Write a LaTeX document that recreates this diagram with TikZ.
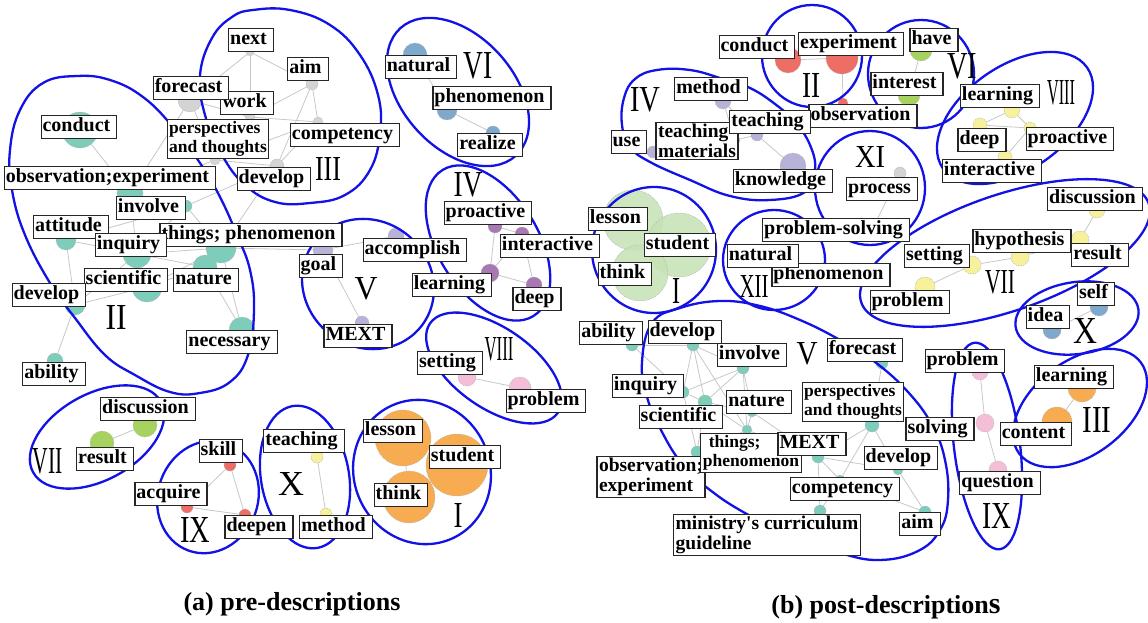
\documentclass[tikz,border=0pt]{standalone}
\usepackage{fontspec}
\setmainfont{Liberation Serif}
\pgfdeclarelayer{bg}
\pgfsetlayers{bg,main}

\definecolor{grpblue}{RGB}{18,18,230}
\definecolor{edgegray}{RGB}{200,200,200}
\definecolor{nteal}{RGB}{126,204,186}
\definecolor{ngray}{RGB}{212,212,212}
\definecolor{nsteel}{RGB}{126,168,204}
\definecolor{npurple}{RGB}{168,120,180}
\definecolor{nlav}{RGB}{182,178,216}
\definecolor{npink}{RGB}{245,190,216}
\definecolor{ngreen}{RGB}{166,210,96}
\definecolor{nred}{RGB}{238,110,102}
\definecolor{nyellow}{RGB}{247,241,156}
\definecolor{norange}{RGB}{248,172,82}
\definecolor{nmint}{RGB}{198,226,180}

% roman group numeral scaled to a given width and height
\newcommand\romnum[3]{\resizebox{#1pt}{#2pt}{#3}}

\tikzset{
  lbl/.style={draw=black!85, line width=1.1pt, fill=white, inner xsep=1.5pt, inner ysep=2.5pt,
    text height=14pt, text depth=4.5pt, font=\bfseries\fontsize{20pt}{20pt}\selectfont,
    execute at end node={\hspace{5pt}}},
  lbltwo/.style={draw=black!85, line width=1.1pt, fill=white, inner xsep=2pt, inner ysep=2pt,
    align=left, font=\bfseries\fontsize{19.5pt}{20pt}\selectfont},
  smalltext/.style={font=\bfseries\fontsize{17.5pt}{19pt}\selectfont},
  grp/.style={draw=grpblue, line width=2.3pt},
  edge/.style={draw=edgegray, line width=0.8pt},
  dot/.style={circle, inner sep=0pt, draw=black!30, line width=0.4pt, dash pattern=on 1.5pt off 1pt},
  rom/.style={inner sep=0pt, font=\mdseries},
  caption/.style={inner sep=0pt, font=\bfseries\fontsize{26pt}{28pt}\selectfont},
}

\begin{document}
\begin{tikzpicture}[x=1pt,y=-1pt]
\useasboundingbox (0,0) rectangle (1148,623);

% ---------------- nodes of the pre-description network ----------------
% III
\node[dot,fill=ngray,minimum size=8pt]  (a3next) at (250,52) {};
\node[dot,fill=ngray,minimum size=12pt] (a3aim)  at (312,84) {};
\node[dot,fill=ngray,minimum size=24pt] (a3fore) at (190,100) {};
\node[dot,fill=ngray,minimum size=10pt] (a3work) at (250,117) {};
\node[dot,fill=ngray,minimum size=10pt] (a3pers) at (215,160) {};
\node[dot,fill=ngray,minimum size=10pt] (a3comp) at (318,122) {};
\node[dot,fill=ngray,minimum size=14pt] (a3dev)  at (277,166) {};
% II
\node[dot,fill=nteal,minimum size=36pt] (a2cond) at (80,130) {};
\node[dot,fill=nteal,minimum size=26pt] (a2obs)  at (130,193) {};
\node[dot,fill=nteal,minimum size=12pt] (a2inv)  at (186,206) {};
\node[dot,fill=nteal,minimum size=20pt] (a2att)  at (66,240) {};
\node[dot,fill=nteal,minimum size=28pt] (a2inq)  at (137,254) {};
\node[dot,fill=nteal,minimum size=30pt] (a2thg)  at (221,248) {};
\node[dot,fill=nteal,minimum size=30pt] (a2sci)  at (147,287) {};
\node[dot,fill=nteal,minimum size=24pt] (a2nat)  at (205,267) {};
\node[dot,fill=nteal,minimum size=26pt] (a2nec)  at (242,330) {};
\node[dot,fill=nteal,minimum size=20pt] (a2dev)  at (75,305) {};
\node[dot,fill=nteal,minimum size=16pt] (a2abl)  at (55,361) {};
% V
\node[dot,fill=nlav,minimum size=20pt] (a5goal) at (323,250) {};
\node[dot,fill=nlav,minimum size=16pt] (a5acc)  at (396,236) {};
\node[dot,fill=nlav,minimum size=14pt] (a5mext) at (362,323) {};
% VI
\node[dot,fill=nsteel,minimum size=24pt] (a6nat) at (415,55) {};
\node[dot,fill=nsteel,minimum size=20pt] (a6phe) at (447,110) {};
\node[dot,fill=nsteel,minimum size=14pt] (a6rea) at (493,133) {};
% IV
\node[dot,fill=npurple,minimum size=14pt] (a4pro)  at (495,226) {};
\node[dot,fill=npurple,minimum size=14pt] (a4int)  at (522,234) {};
\node[dot,fill=npurple,minimum size=18pt] (a4lrn)  at (490,273) {};
\node[dot,fill=npurple,minimum size=16pt] (a4deep) at (534,285) {};
% VIII
\node[dot,fill=npink,minimum size=18pt] (a8set)  at (467,377) {};
\node[dot,fill=npink,minimum size=22pt] (a8prob) at (520,388) {};
% VII
\node[dot,fill=ngreen,minimum size=24pt] (a7disc) at (145,425) {};
\node[dot,fill=ngreen,minimum size=24pt] (a7res)  at (102,443) {};
% IX
\node[dot,fill=nred,minimum size=12pt] (a9skill) at (230,465) {};
\node[dot,fill=nred,minimum size=12pt] (a9acq)   at (187,507) {};
\node[dot,fill=nred,minimum size=12pt] (a9deep)  at (245,515) {};
% X
\node[dot,fill=nyellow,minimum size=12pt] (a10teach) at (317,457) {};
\node[dot,fill=nyellow,minimum size=12pt] (a10meth)  at (326,514) {};
% I
\node[dot,fill=norange,minimum size=56pt] (a1les) at (403,438) {};
\node[dot,fill=norange,minimum size=62pt] (a1stu) at (457,465) {};
\node[dot,fill=norange,minimum size=52pt] (a1thk) at (409,497) {};

% ---------------- nodes of the post-description network ----------------
\node[dot,fill=nred,minimum size=26pt] (b2cond) at (788,60) {};
\node[dot,fill=nred,minimum size=32pt] (b2exp)  at (842,58) {};
\node[dot,fill=nred,minimum size=10pt] (b2obs)  at (843,103) {};
\node[dot,fill=ngreen,minimum size=22pt] (b6have) at (921,50) {};
\node[dot,fill=ngreen,minimum size=22pt] (b6int)  at (909,95) {};
\node[dot,fill=nlav,minimum size=16pt] (b4meth)  at (723,101) {};
\node[dot,fill=nlav,minimum size=12pt] (b4use)   at (653,152) {};
\node[dot,fill=nlav,minimum size=10pt] (b4tm)    at (735,140) {};
\node[dot,fill=nlav,minimum size=12pt] (b4teach) at (757,135) {};
\node[dot,fill=nlav,minimum size=26pt] (b4know)  at (793,166) {};
\node[dot,fill=nyellow,minimum size=16pt] (b8lrn)  at (1012,110) {};
\node[dot,fill=nyellow,minimum size=14pt] (b8deep) at (980,125) {};
\node[dot,fill=nyellow,minimum size=12pt] (b8pro)  at (1030,128) {};
\node[dot,fill=nyellow,minimum size=14pt] (b8int)  at (1005,157) {};
\node[dot,fill=ngray,minimum size=12pt] (b11proc) at (900,173) {};
\node[dot,fill=ngray,minimum size=10pt] (b11ps)   at (872,230) {};
\node[dot,fill=nyellow,minimum size=16pt] (b7disc) at (1097,210) {};
\node[dot,fill=nyellow,minimum size=18pt] (b7res)  at (1080,240) {};
\node[dot,fill=nyellow,minimum size=18pt] (b7hyp)  at (1020,257) {};
\node[dot,fill=nyellow,minimum size=18pt] (b7set)  at (972,265) {};
\node[dot,fill=nyellow,minimum size=20pt] (b7prob) at (925,287) {};
\node[dot,fill=nsteel,minimum size=18pt] (b10self) at (1099,307) {};
\node[dot,fill=nsteel,minimum size=18pt] (b10idea) at (1052,330) {};
\node[dot,fill=norange,minimum size=28pt] (b3lrn)  at (1082,388) {};
\node[dot,fill=norange,minimum size=30pt] (b3cont) at (1057,422) {};
\node[dot,fill=npink,minimum size=16pt] (b9prob) at (980,372) {};
\node[dot,fill=npink,minimum size=18pt] (b9solv) at (985,423) {};
\node[dot,fill=npink,minimum size=18pt] (b9q)    at (998,470) {};
\node[dot,fill=nmint,fill opacity=0.85,minimum size=60pt] (b1les) at (633,220) {};
\node[dot,fill=nmint,fill opacity=0.85,minimum size=64pt] (b1stu) at (679,245) {};
\node[dot,fill=nmint,fill opacity=0.85,minimum size=56pt] (b1thk) at (640,273) {};
\node[dot,fill=nteal,minimum size=12pt] (b5abl)  at (632,345) {};
\node[dot,fill=nteal,minimum size=12pt] (b5dev)  at (693,345) {};
\node[dot,fill=nteal,minimum size=12pt] (b5inv)  at (743,368) {};
\node[dot,fill=nteal,minimum size=12pt] (b5inq)  at (683,392) {};
\node[dot,fill=nteal,minimum size=14pt] (b5sci)  at (705,402) {};
\node[dot,fill=nteal,minimum size=10pt] (b5nat)  at (752,412) {};
\node[dot,fill=nteal,minimum size=10pt] (b5thg)  at (747,430) {};
\node[dot,fill=nteal,minimum size=12pt] (b5obs)  at (697,452) {};
\node[dot,fill=nteal,minimum size=12pt] (b5mext) at (818,457) {};
\node[dot,fill=nteal,minimum size=14pt] (b5pers) at (872,425) {};
\node[dot,fill=nteal,minimum size=12pt] (b5fore) at (882,363) {};
\node[dot,fill=nteal,minimum size=10pt] (b5dev2) at (898,470) {};
\node[dot,fill=nteal,minimum size=10pt] (b5comp) at (840,480) {};
\node[dot,fill=nteal,minimum size=12pt] (b5min)  at (820,511) {};
\node[dot,fill=nteal,minimum size=12pt] (b5aim)  at (925,512) {};

% ---------------- edges, underneath everything ----------------
\begin{pgfonlayer}{bg}
\fill[white] (0,0) rectangle (1148,623);
\foreach \u/\v in {a3next/a3fore, a3next/a3work, a3next/a3aim, a3aim/a3work, a3aim/a3comp,
  a3aim/a3dev, a3work/a3comp, a3work/a3pers, a3fore/a3pers, a3fore/a3work, a3pers/a3comp,
  a3pers/a3dev, a3comp/a3dev, a3fore/a2obs, a3pers/a2obs, a3dev/a2thg, a3dev/a2inv,
  a2cond/a2obs, a2obs/a2inv, a2obs/a2inq, a2inv/a2inq, a2inv/a2att, a2att/a2inq, a2att/a2dev,
  a2inq/a2sci, a2inq/a2thg, a2inq/a2nat, a2sci/a2nat, a2sci/a2dev, a2sci/a2thg, a2thg/a2nat,
  a2thg/a2nec, a2nat/a2nec, a2dev/a2abl, a2inq/a2dev, a2thg/a5goal, a2inv/a2thg,
  a5goal/a5acc, a5goal/a5mext, a6nat/a6phe, a6phe/a6rea,
  a4pro/a4lrn, a4pro/a4int, a4int/a4lrn, a4int/a4deep, a4lrn/a4deep,
  a8set/a8prob, a7disc/a7res, a9skill/a9acq, a9skill/a9deep, a9acq/a9deep,
  a10teach/a10meth, a1les/a1thk,
  b2cond/b2exp, b2exp/b2obs, b6have/b6int, b4meth/b4tm, b4meth/b4teach, b4use/b4tm,
  b4tm/b4teach, b4teach/b4know, b8lrn/b8deep, b8lrn/b8pro, b8deep/b8pro, b8deep/b8int,
  b8pro/b8int, b11proc/b11ps, b7disc/b7res, b7res/b7hyp, b7hyp/b7set, b7set/b7prob,
  b10self/b10idea, b3lrn/b3cont, b9prob/b9solv, b9solv/b9q, b1les/b1thk,
  b5abl/b5dev, b5abl/b5inq, b5dev/b5inv, b5dev/b5inq, b5dev/b5sci, b5dev/b5thg,
  b5inv/b5inq, b5inv/b5sci, b5inv/b5nat, b5inv/b5thg, b5inq/b5sci, b5inq/b5obs,
  b5sci/b5nat, b5sci/b5thg, b5sci/b5obs, b5nat/b5thg, b5thg/b5mext, b5thg/b5obs,
  b5mext/b5pers, b5mext/b5comp, b5mext/b5dev2, b5mext/b5min, b5pers/b5fore,
  b5pers/b5dev2, b5pers/b5comp, b5dev2/b5aim, b5comp/b5aim, b5min/b5comp, b5nat/b5mext}
  \draw[edge] (\u) -- (\v);
\end{pgfonlayer}

% ---------------- group outlines ----------------
% pre-descriptions
\draw[grp] plot[smooth cycle, tension=0.7] coordinates {(77,76) (110,80) (143,97) (173,127)
  (200,163) (220,197) (237,235) (250,270) (254,310) (248,355) (230,382) (200,393) (170,392)
  (135,375) (105,355) (75,318) (50,283) (25,235) (12,190) (10,150) (20,110) (43,83)};
\draw[grp] plot[smooth cycle, tension=0.7] coordinates {(253,10) (290,10) (330,25) (360,55)
  (378,95) (380,133) (370,170) (345,195) (310,203) (275,202) (245,185) (222,155) (205,115)
  (200,75) (212,38) (232,17)};
\draw[grp, rotate around={-48:(458,92)}]  (458,92)  ellipse [x radius=86, y radius=56];
\draw[grp, rotate around={-58:(488,243)}] (488,243) ellipse [x radius=86, y radius=50];
\draw[grp, rotate around={-40:(368,284)}] (368,284) ellipse [x radius=68, y radius=63];
\draw[grp, rotate around={-35:(494,368)}] (494,368) ellipse [x radius=78, y radius=40];
\draw[grp, rotate around={-65:(422,472)}] (422,472) ellipse [x radius=73, y radius=68];
\draw[grp, rotate around={29:(97,437)}]   (97,437)  ellipse [x radius=73, y radius=43];
\draw[grp, rotate around={-20:(208,497)}] (208,497) ellipse [x radius=50, y radius=57];
\draw[grp, rotate around={10:(305,477)}]  (305,477) ellipse [x radius=44, y radius=72];
% post-descriptions
\draw[grp] (812,56) ellipse [x radius=50, y radius=51];
\draw[grp] (921,74) ellipse [x radius=53, y radius=54];
\draw[grp, rotate around={35:(1015,118)}] (1015,118) ellipse [x radius=88, y radius=52];
\draw[grp] plot[smooth cycle, tension=0.7] coordinates {(723,79) (690,70) (657,70) (635,79)
  (624,98) (622,125) (630,147) (650,162) (690,180) (730,196) (770,200) (805,192) (815,170)
  (810,145) (795,122) (775,104) (750,88)};
\draw[grp] (870,188) ellipse [x radius=55, y radius=57];
\draw[grp] (774,260) ellipse [x radius=51, y radius=50];
\draw[grp] (654,250) ellipse [x radius=62, y radius=63];
\draw[grp, rotate around={19:(1005,253)}] (1005,253) ellipse [x radius=152, y radius=58];
\draw[grp, rotate around={8:(1077,318)}]  (1077,318) ellipse [x radius=62, y radius=36];
\draw[grp, rotate around={37:(1080,408)}] (1080,408) ellipse [x radius=76, y radius=47];
\draw[grp, rotate around={7:(987,446)}]   (987,446)  ellipse [x radius=33, y radius=104];
\draw[grp] plot[smooth cycle, tension=0.7] coordinates {(652,323) (680,308) (720,301)
  (760,306) (800,320) (840,340) (875,362) (908,392) (932,425) (945,460) (948,500) (940,530)
  (918,551) (880,560) (840,553) (790,535) (745,513) (710,490) (683,465) (662,432) (647,397)
  (642,362)};

% ---------------- group numerals ----------------
\node[rom] (ga3) at (328,169) {\romnum{26}{23}{III}};
\node[rom] (ga2) at (116,317) {\romnum{21}{24}{II}};
\node[rom] (ga6) at (478,66)  {\romnum{29}{26}{VI}};
\node[rom] (ga4) at (468,185) {\romnum{29}{24}{IV}};
\node[rom] (ga5) at (366,289) {\romnum{23}{22}{V}};
\node[rom] (ga8) at (499,349) {\romnum{29}{23}{VIII}};
\node[rom] (ga7) at (48,461)  {\romnum{30}{25}{VII}};
\node[rom] (ga9) at (195,530) {\romnum{30}{25}{IX}};
\node[rom] (ga10) at (291,484) {\romnum{26}{23}{X}};
\node[rom] (ga1) at (458,515) {\romnum{9}{24}{I}};
\node[rom] (gb2) at (811,85)  {\romnum{18}{24}{II}};
\node[rom] (gb6) at (962,66)  {\romnum{30}{25}{VI}};
\node[rom] (gb4) at (645,100) {\romnum{30}{24}{IV}};
\node[rom] (gb8) at (1061,93) {\romnum{28}{24}{VIII}};
\node[rom] (gb11) at (870,157) {\romnum{30}{21}{XI}};
\node[rom] (gb12) at (754,286) {\romnum{29}{22}{XII}};
\node[rom] (gb1) at (676,291) {\romnum{8}{25}{I}};
\node[rom] (gb7) at (1000,282) {\romnum{30}{23}{VII}};
\node[rom] (gb10) at (1085,331) {\romnum{24}{25}{X}};
\node[rom] (gb5) at (807,354) {\romnum{21}{22}{V}};
\node[rom] (gb3) at (1097,420) {\romnum{29}{25}{III}};
\node[rom] (gb9) at (997,516) {\romnum{29}{25}{IX}};

% ---------------- labels: pre-descriptions ----------------
\node[lbl] (lanext) at (251,40) {next};
\node[lbl] (laaim) at (308,69) {aim};
\node[lbl] (lawork) at (247,103) {work};
\node[lbl] (lafore) at (191,88) {forecast};
\node[lbltwo,smalltext] (lapers) at (218,139) {perspectives\\and thoughts};
\node[lbl] (lacomp) at (345,135) {competency};
\node[lbl] (ladev3) at (274,179) {develop};
\node[lbl] (lacond) at (79,127) {conduct};
\node[lbl] (laobs) at (110,178) {observation;experiment};
\node[lbl] (lainv) at (151,208) {involve};
\node[lbl] (lathg) at (251,235) {things; phenomenon};
\node[lbl] (laatt) at (71,227) {attitude};
\node[lbl] (lainq) at (131,245) {inquiry};
\node[lbl] (lasci) at (126,280) {scientific};
\node[lbl] (lanat) at (206,280) {nature};
\node[lbl] (ladev2) at (49,295) {develop};
\node[lbl] (lanec) at (232,342) {necessary};
\node[lbl] (laabl) at (54,374) {ability};
\node[lbl] (lagoal) at (321,266) {goal};
\node[lbl] (laacc) at (415,250) {accomplish};
\node[lbl] (lamext) at (358,336) {MEXT};
\node[lbl] (lanatural) at (421,67) {natural};
\node[lbl] (laphe) at (492,98) {phenomenon};
\node[lbl] (larea) at (490,145) {realize};
\node[lbl] (lapro) at (488,213) {proactive};
\node[lbl] (laint) at (550,246) {interactive};
\node[lbl] (lalrn) at (452,285) {learning};
\node[lbl] (ladeep) at (537,299) {deep};
\node[lbl] (laset) at (450,363) {setting};
\node[lbl] (laprob) at (546,401) {problem};
\node[lbl] (ladisc) at (148,409) {discussion};
\node[lbl] (lares) at (105,459) {result};
\node[lbl] (laskill) at (221,451) {skill};
\node[lbl] (laacq) at (171,494) {acquire};
\node[lbl] (ladeepen) at (259,527) {deepen};
\node[lbl] (lateach) at (304,441) {teaching};
\node[lbl] (lameth) at (336,527) {method};
\node[lbl] (lales) at (393,431) {lesson};
\node[lbl] (lastu) at (465,457) {student};
\node[lbl] (lathk) at (401,495) {think};

% ---------------- labels: post-descriptions ----------------
\node[lbl] (lbcond) at (757,47) {conduct};
\node[lbl] (lbexp) at (851,44) {experiment};
\node[lbl] (lbhave) at (934,40) {have};
\node[lbl] (lbint) at (907,84) {interest};
\node[lbl] (lbobs) at (863,116) {observation};
\node[lbl] (lbmeth) at (711,89) {method};
\node[lbltwo] (lbtm) at (697,141) {teaching\\materials};
\node[lbl] (lbuse) at (629,142) {use};
\node[lbl] (lbteach) at (770,122) {teaching};
\node[lbl] (lbknow) at (783,181) {knowledge};
\node[lbl] (lbproc) at (882,189) {process};
\node[lbl] (lblrn8) at (1000,96) {learning};
\node[lbl] (lbdeep8) at (982,140) {deep};
\node[lbl] (lbpro8) at (1070,139) {proactive};
\node[lbl] (lbint8) at (992,171) {interactive};
\node[lbl] (lbdisc) at (1095,199) {discussion};
\node[lbl] (lbhyp) at (1022,241) {hypothesis};
\node[lbl] (lbres) at (1100,255) {result};
\node[lbl] (lbset) at (937,256) {setting};
\node[lbl] (lbprob7) at (910,302) {problem};
\node[lbl] (lbself) at (1096,294) {self};
\node[lbl] (lbidea) at (1048,317) {idea};
\node[lbl] (lbps) at (836,230) {problem-solving};
\node[lbl] (lbphe) at (831,275) {phenomenon};
\node[lbl] (lbnatural) at (763,256) {natural};
\node[lbl] (lbles) at (618,219) {lesson};
\node[lbl] (lbstu) at (680,245) {student};
\node[lbl] (lbthk) at (625,274) {think};
\node[lbl] (lbabl) at (611,333) {ability};
\node[lbl] (lbdev5) at (685,332) {develop};
\node[lbl] (lbinv) at (752,355) {involve};
\node[lbl] (lbfore) at (865,350) {forecast};
\node[lbl] (lbinq) at (648,386) {inquiry};
\node[lbl] (lbnat) at (759,402) {nature};
\node[lbltwo,smalltext] (lbpers) at (853,402) {perspectives\\and thoughts};
\node[lbl] (lbsci) at (681,417) {scientific};
\node[lbl] (lbsolv) at (940,429) {solving};
\node[lbl] (lbprob9) at (965,361) {problem};
\node[lbltwo] (lbobs5) at (651,477) {observation;\\experiment};
\node[lbltwo,smalltext] (lbthg) at (751,453) {\hspace*{6pt}things;\\phenomenon};
\node[lbl] (lbmext) at (812,444) {MEXT};
\node[lbl] (lbdev2) at (901,458) {develop};
\node[lbl] (lbcomp) at (845,489) {competency};
\node[lbltwo] (lbmin) at (767,535) {ministry\textquotesingle s curriculum\\guideline};
\node[lbl] (lbaim) at (920,524) {aim};
\node[lbl] (lblrn3) at (1074,377) {learning};
\node[lbl] (lbcont) at (1036,434) {content};
\node[lbl] (lbq) at (1000,483) {question};

% ---------------- captions ----------------
\node[caption] (capa) at (292,604) {(a) pre-descriptions};
\node[caption] (capb) at (886,607) {(b) post-description{\fontsize{30pt}{30pt}\selectfont s}};
\end{tikzpicture}
\end{document}
